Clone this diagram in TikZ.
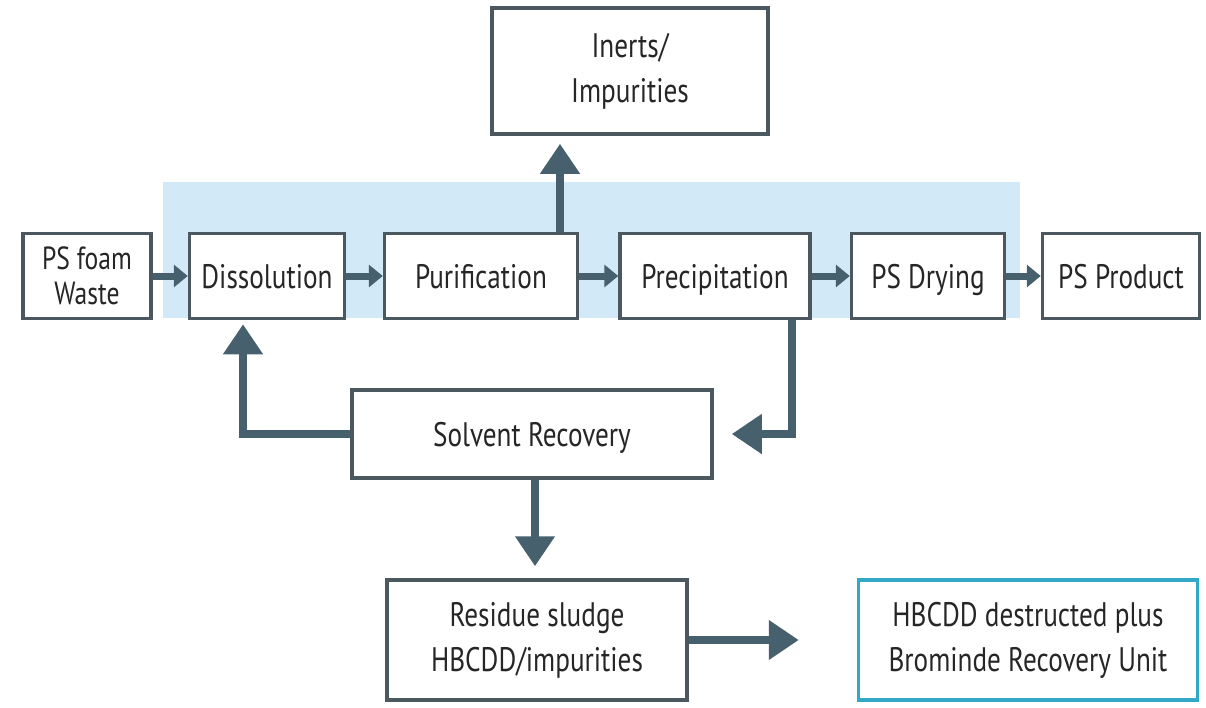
\documentclass[tikz,border=0pt]{standalone}
\usepackage{fontspec}
\setmainfont{PT Sans}[FakeStretch=0.8]
\usetikzlibrary{arrows.meta}
\definecolor{flowline}{HTML}{46606D}
\definecolor{boxline}{HTML}{4B5860}
\definecolor{bandblue}{HTML}{D2EAF7}
\definecolor{tealline}{HTML}{30A8C6}
\definecolor{txtgray}{HTML}{262626}
\tikzset{
  procbox/.style={draw=boxline,line width=3.5pt,fill=white,text=txtgray,align=center,
    inner sep=0pt,font=\fontsize{34}{45}\selectfont},
  oneline/.style={text height=27pt,text depth=3pt},
  smallflow/.style={draw=flowline,line width=7pt,-{Triangle[width=22pt,length=14pt]}},
  bigflow/.style={draw=flowline,line width=8pt,-{Triangle[width=38pt,length=30pt]}}
}
\begin{document}
\begin{tikzpicture}[x=1pt,y=-1pt]
  \useasboundingbox (0,0) rectangle (1206,707);
  \fill[bandblue] (163,182) rectangle (1020,318);
  % main line
  \node[procbox,minimum width=128pt,minimum height=85pt,font=\fontsize{32}{35}\selectfont] (waste) at (87,276) {PS foam\\Waste};
  \node[procbox,oneline,minimum width=155pt,minimum height=85pt] (diss) at (267,276) {Dissolution};
  \node[procbox,oneline,minimum width=193pt,minimum height=85pt] (puri) at (481,276) {Purification};
  \node[procbox,oneline,minimum width=190pt,minimum height=85pt] (prec) at (715,276) {Precipitation};
  \node[procbox,oneline,minimum width=153pt,minimum height=85pt] (dry) at (928,276) {PS Drying};
  \node[procbox,oneline,minimum width=157pt,minimum height=85pt] (prod) at (1121,276) {PS Product};
  % side streams
  \node[procbox,minimum width=276pt,minimum height=126pt] (inert) at (630,71) {Inerts/\\Impurities};
  \node[procbox,oneline,minimum width=360pt,minimum height=88pt] (solv) at (532,434) {Solvent Recovery};
  \node[procbox,minimum width=300pt,minimum height=120pt] (resid) at (537,640) {Residue sludge\\HBCDD/impurities};
  \node[procbox,draw=tealline,minimum width=339pt,minimum height=120pt] (hbcdd) at (1028,640) {HBCDD destructed plus\\Brominde Recovery Unit};
  \draw[smallflow] (waste) -- (diss);
  \draw[smallflow] (diss) -- (puri);
  \draw[smallflow] (puri) -- (prec);
  \draw[smallflow] (prec) -- (dry);
  \draw[smallflow] (dry) -- (prod);
  \draw[bigflow,shorten >=8pt] ([xshift=79pt]puri.north) -- ([xshift=-70pt]inert.south);
  \draw[bigflow,shorten >=18pt] ([xshift=-20pt]prec.south east) |- (solv.east);
  \draw[bigflow,shorten >=4pt] (solv.west) -| ([xshift=-24pt]diss.south);
  \draw[bigflow,shorten >=12pt] ([xshift=3pt]solv.south) -- ([xshift=3pt]solv.south |- resid.north);
  \draw[bigflow,shorten >=58pt] (resid.east) -- (hbcdd.west);
\end{tikzpicture}
\end{document}
